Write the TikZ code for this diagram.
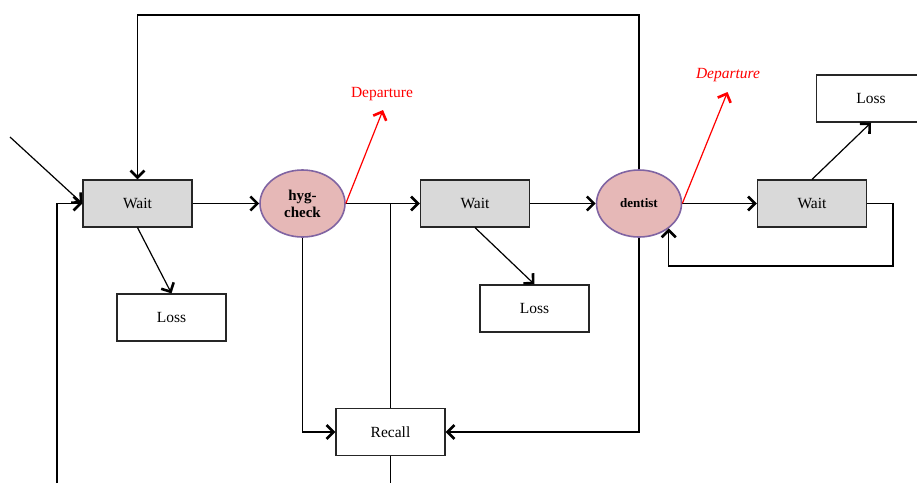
\documentclass[tikz,border=0pt]{standalone}
\usepackage{fontspec}
\setmainfont{Liberation Serif}
\usetikzlibrary{arrows.meta,shapes.geometric}
\definecolor{ellfill}{HTML}{E6B8B7}
\definecolor{elldraw}{HTML}{8064A2}
\definecolor{waitfill}{HTML}{D9D9D9}
\begin{document}
\begin{tikzpicture}[x=1pt,y=-1pt,
  box/.style={draw=black!85, line width=1.2pt, minimum width=109pt, minimum height=47pt, inner sep=0pt, font=\fontsize{15.5}{18}\selectfont},
  waitbox/.style={box, fill=waitfill},
  ell/.style={ellipse, draw=elldraw, fill=ellfill, line width=1.6pt, minimum width=85pt, minimum height=67pt, inner sep=0pt, align=center},
  ln/.style={line width=1.2pt},
  tip/.style={-{Straight Barb[length=7pt,width=14pt,line width=2.6pt]}},
  arr/.style={ln, tip},
  dep/.style={red, line width=1.2pt, tip},
  deplabel/.style={red, inner sep=0pt, font=\fontsize{15.5}{18}\selectfont}
]
\useasboundingbox (0,0) rectangle (917,483);

% nodes
\node[waitbox] (w1) at (137.5,203.5) {Wait};
\node[box] (l1) at (171.5,317.5) {Loss};
\node[ell, font=\bfseries\fontsize{15}{17}\selectfont] (hy) at (302.5,203.5) {hyg-\\check};
\node[waitbox] (w2) at (475,203.5) {Wait};
\node[box] (l2) at (534.5,308.5) {Loss};
\node[ell, font=\bfseries\fontsize{13}{15}\selectfont] (dn) at (639,203.5) {dentist};
\node[waitbox] (w3) at (812,203.5) {Wait};
\node[box] (l3) at (871,98.5) {Loss};
\node[box] (rc) at (390.5,432) {Recall};
\node[deplabel] (dep1) at (382,94) {Departure};
\node[deplabel, font=\itshape\fontsize{15.5}{18}\selectfont] (dep2) at (728,75) {Departure};

% free ends
\coordinate (inA) at (57,483);
\coordinate (inB) at (10,137);
\coordinate (recOut) at (390.5,483);
\coordinate (topY) at (0,15);
\coordinate (lp) at (893,266);
\coordinate (t1) at (383,110);
\coordinate (t2) at (727.5,92);

% connectors
\draw[arr] (inB) -- (w1.west);
\draw[arr] (inA) |- (w1.west);
\draw[arr] (dn.north) -- (dn.north |- topY) -| (w1.north);
\draw[arr] (w1.east) -- (hy.west);
\draw[arr] (w1.south) -- (l1.north);
\draw[arr] (hy.east) -- (w2.west);
\draw[ln] (rc.north) -- (rc.north |- hy.east);
\draw[ln] (rc.south) -- (recOut);
\draw[arr] (hy.south) |- (rc.west);
\draw[arr] (dn.south) |- (rc.east);
\draw[arr] (w2.east) -- (dn.west);
\draw[arr] (w2.south) -- (l2.north);
\draw[arr] (dn.east) -- (w3.west);
\draw[arr] (w3.north) -- (l3.south);
\draw[arr] (w3.east) -| (lp) -| (dn.-40);
\draw[dep] (hy.east) -- (t1);
\draw[dep] (dn.east) -- (t2);
\end{tikzpicture}
\end{document}
